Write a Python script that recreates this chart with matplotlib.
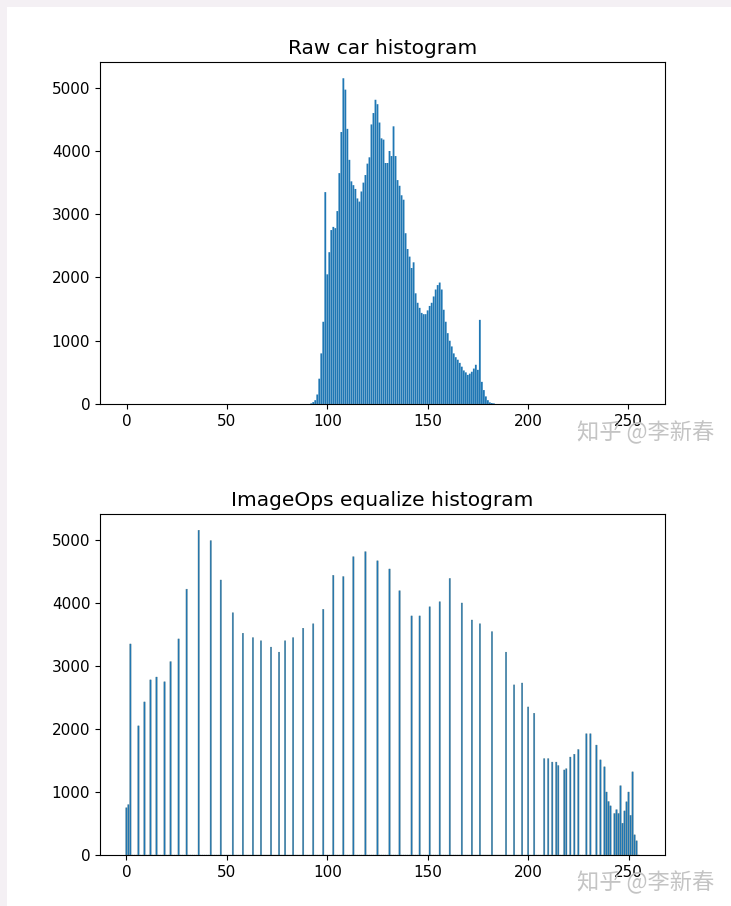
import matplotlib.pyplot as plt
import numpy as np
from matplotlib.patches import Rectangle

# raw car histogram: counts for grey levels 92..183 (everything else is 0)
raw_start = 92
raw_counts = [
    10, 30, 60, 150, 400, 800, 1300, 3350, 2050, 2400,
    2750, 2800, 2780, 3050, 3650, 4300, 5150, 4970, 4350, 3860,
    3520, 3460, 3400, 3250, 3200, 3360, 3500, 3620, 3800, 3900,
    4420, 4600, 4810, 4740, 4450, 4200, 4180, 3810, 3810, 4000,
    3920, 4390, 3920, 3540, 3450, 3300, 3230, 2700, 2450, 2330,
    2150, 2240, 1750, 1600, 1520, 1440, 1420, 1420, 1480, 1550,
    1600, 1700, 1810, 1880, 1920, 1810, 1490, 1300, 1120, 1000,
    910, 800, 740, 700, 650, 590, 530, 500, 460, 480,
    510, 560, 620, 540, 1330, 350, 220, 120, 60, 25,
    15, 10,
]

# equalized histogram: only a few grey levels are used
eq_levels = [
    0, 1, 2, 6, 9, 12, 15, 19, 22, 26, 30, 36, 42, 47, 53, 58, 63, 67, 72, 76,
    79, 83, 88, 93, 98, 103, 108, 113, 119, 125, 131, 136, 142, 146, 151, 156,
    161, 167, 172, 176, 182, 189, 193, 197, 200, 203, 208, 210, 212, 214, 215,
    218, 219, 221, 223, 225, 229, 231, 234, 236, 238, 239, 240, 241, 243, 244,
    245, 246, 247, 248, 249, 250, 251, 252, 253, 254,
]
eq_counts = [
    750, 800, 3350, 2050, 2430, 2780, 2825, 2750, 3070, 3430, 4220, 5155, 4990,
    4365, 3845, 3520, 3450, 3400, 3300, 3220, 3400, 3450, 3600, 3670, 3900,
    4440, 4420, 4735, 4815, 4670, 4540, 4195, 3795, 3795, 3940, 4020, 4390,
    4000, 3730, 3670, 3545, 3220, 2700, 2730, 2350, 2250, 1530, 1530, 1475,
    1475, 1420, 1350, 1370, 1555, 1600, 1675, 1925, 1925, 1745, 1510, 1400,
    1000, 850, 780, 660, 720, 660, 1100, 505, 700, 845, 1000, 630, 1320, 320,
    225,
]

levels = np.arange(256)
raw_hist = np.zeros(256)
raw_hist[raw_start:raw_start + len(raw_counts)] = raw_counts
eq_hist = np.zeros(256)
eq_hist[eq_levels] = eq_counts

fig = plt.figure(figsize=(7.31, 9.06), dpi=100)
fig.patch.set_facecolor('#f4f0f4')
fig.patches.append(Rectangle((7 / 731, 0), 1, 1 - 7 / 906, transform=fig.transFigure,
                             facecolor='white', edgecolor='none', zorder=-1))

ax1 = fig.add_axes([0.1368, 0.5541, 0.7729, 0.3775])
ax2 = fig.add_axes([0.1368, 0.0563, 0.7729, 0.3764])

ax1.bar(levels, raw_hist, width=0.9, color='#1f77b4', snap=False)
ax1.set_title('Raw car histogram', fontsize=14.5)
ax2.bar(levels, eq_hist, width=0.7, color='#1f77b4', edgecolor='#4d7683',
        linewidth=0.25, snap=False)
ax2.set_title('ImageOps equalize histogram', fontsize=14.5)

for ax in (ax1, ax2):
    ax.set_xticks([0, 50, 100, 150, 200, 250])
    ax.set_yticks([0, 1000, 2000, 3000, 4000, 5000])
    ax.tick_params(labelsize=11)

# zhihu watermark
for y in (0.515, 0.019):
    fig.text(0.79, y, '知乎 @李新春', fontsize=16, color='#c4c4c4',
             family=['Noto Sans CJK SC', 'DejaVu Sans'])

fig.savefig('out.png', dpi=100, facecolor=fig.get_facecolor())
